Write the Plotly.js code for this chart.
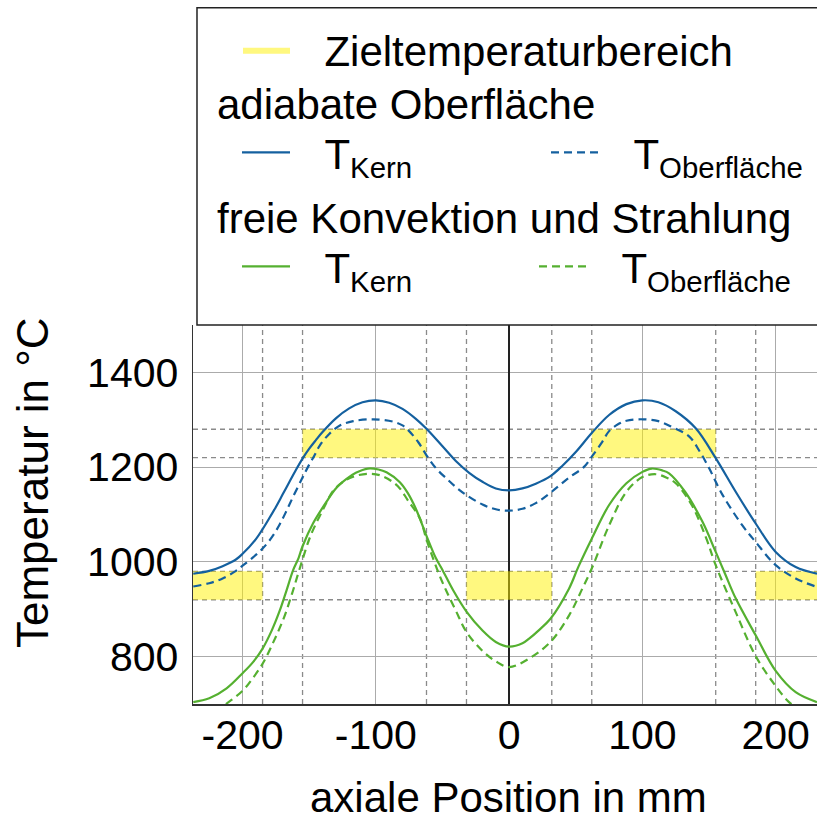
<!DOCTYPE html>
<html>
<head>
<meta charset="utf-8">
<script src="https://cdn.plot.ly/plotly-3.0.1.min.js"></script>
<style>html,body{margin:0;padding:0;background:#fff;}</style>
</head>
<body>
<div id="chart" style="width:817px;height:819px;"></div>
<script>
// axial position (mm) and temperatures (°C)
const xAdiabatKern = [-237,-225,-215,-205,-200,-190,-185,-180,-175,-170,-165,-160,-155,-150,-145,-140,-130,-120,-110,-100,-90,-80,-70,-62,-50,-40,-30,-20,-10,0,10,20,31,40,50,62,75,88,100,112,125,140,155,170,185,200,215,231];
const tAdiabatKern = [975,981,991,1005,1017,1048,1069,1092,1116,1142,1168,1194,1218,1239,1257,1274,1303,1324,1337,1341,1336,1323,1302,1281,1244,1213,1188,1169,1155,1151,1155,1165,1181,1203,1232,1272,1310,1333,1341,1337,1318,1282,1219,1148,1081,1021,989,975];

const xAdiabatOberflaeche = [-237,-225,-215,-205,-200,-192,-185,-178,-172,-167,-162,-155,-151,-146,-142,-135,-127,-117,-102,-87,-80,-75,-68,-62,-55,-47,-40,-32,-20,-10,0,10,20,31,45,56,62,70,75,82,88,100,112,122,135,143,150,160,175,185,200,215,231];
const tAdiabatOberflaeche = [948,955,965,981,992,1010,1028,1052,1080,1108,1138,1178,1200,1225,1246,1270,1288,1297,1301,1296,1288,1276,1252,1225,1198,1176,1158,1141,1121,1111,1108,1112,1124,1146,1178,1200,1222,1254,1276,1291,1298,1301,1297,1285,1265,1233,1198,1142,1077,1042,993,965,947];

const xKonvKern = [-237,-225,-212,-200,-192,-185,-178,-172,-167,-162,-158,-155,-147,-137,-130,-122,-115,-106,-98,-92,-82,-76,-70,-62,-55,-50,-42,-32,-20,-10,0,10,15,22,31,45,52,62,75,88,100,107,115,120,132,145,155,162,170,185,200,215,231];
const tKonvKern = [704,712,733,765,789,817,856,898,940,983,1008,1033,1082,1127,1155,1175,1188,1197,1195,1189,1168,1145,1112,1055,1008,983,940,895,855,831,821,828,838,855,880,944,990,1049,1120,1166,1190,1197,1193,1187,1148,1085,1021,975,923,845,770,725,704];

const xKonvOberflaeche = [-237,-225,-212,-200,-193,-185,-177,-169,-163,-157,-149,-139,-132,-124,-117,-106,-97,-88,-82,-76,-67,-62,-57,-52,-47,-40,-32,-20,-10,0,15,31,45,55,62,75,88,100,110,118,125,137,148,155,170,185,200,210,220,231];
const tKonvOberflaeche = [655,676,701,728,752,785,830,882,932,987,1055,1114,1150,1170,1180,1186,1183,1170,1155,1130,1092,1047,1007,970,938,897,852,812,790,778,796,831,887,944,986,1077,1148,1179,1185,1178,1166,1120,1049,993,894,801,738,704,684,666];

// target temperature ranges (Zieltemperaturbereich)
const zoneStart = [-240, -32, 185, -155, 62];
const zoneEnd   = [-185, 32, 240, -62, 155];
const zoneTmin  = [920, 920, 920, 1220, 1220];
const zoneTmax  = [980, 980, 980, 1280, 1280];

const xTicks = [-200, -100, 0, 100, 200];
const xTickText = ['-200', '-100', '0', '100', '200'];
const yTicks = [800, 1000, 1200, 1400];

const FONT = 'Liberation Sans, Arial, sans-serif';
const BLUE = '#14609f';
const GREEN = '#55b030';

// polygons for the zones
const zx = [], zy = [];
zoneStart.forEach((s, i) => {
  const e = zoneEnd[i], a = zoneTmin[i], b = zoneTmax[i];
  zx.push(s, e, e, s, s, null);
  zy.push(a, a, b, b, a, null);
});

const SM = 1.0;
const traces = [
  {x: zx, y: zy, type: 'scatter', mode: 'lines', fill: 'toself',
   fillcolor: 'rgba(255,242,0,0.5)', line: {width: 0, color: 'rgba(150,150,150,0)'},
   name: '\u2002\u2009Zieltemperaturbereich', legend: 'legend', hoverinfo: 'skip'},
  {x: xKonvKern, y: tKonvKern, type: 'scatter', mode: 'lines',
   line: {color: GREEN, width: 2.2, shape: 'spline', smoothing: SM},
   name: '\u2002\u2009T<sub>Kern</sub>', legend: 'legend3', legendwidth: 212},
  {x: xKonvOberflaeche, y: tKonvOberflaeche, type: 'scatter', mode: 'lines',
   line: {color: GREEN, width: 2.2, dash: '8px,5px', shape: 'spline', smoothing: SM},
   name: '\u2002\u2009T<sub>Oberfläche</sub>', legend: 'legend3'},
  {x: xAdiabatKern, y: tAdiabatKern, type: 'scatter', mode: 'lines',
   line: {color: BLUE, width: 2.2, shape: 'spline', smoothing: SM},
   name: '\u2002\u2009T<sub>Kern</sub>', legend: 'legend2', legendwidth: 224},
  {x: xAdiabatOberflaeche, y: tAdiabatOberflaeche, type: 'scatter', mode: 'lines',
   line: {color: BLUE, width: 2.2, dash: '8px,5px', shape: 'spline', smoothing: SM},
   name: '\u2002\u2009T<sub>Oberfläche</sub>', legend: 'legend2'}
];

// dashed guide lines at zone boundaries
const shapes = [];
const vEdges = [...new Set(zoneStart.concat(zoneEnd))].filter(v => Math.abs(v) < 230);
vEdges.forEach(v => shapes.push({type: 'line', xref: 'x', yref: 'paper', x0: v, x1: v, y0: 0, y1: 1,
  line: {color: '#8a8a8a', width: 1.3, dash: '5px,4px'}, layer: 'below'}));
const hEdges = [...new Set(zoneTmin.concat(zoneTmax))];
hEdges.forEach(h => shapes.push({type: 'line', xref: 'paper', yref: 'y', x0: 0, x1: 1, y0: h, y1: h,
  line: {color: '#8a8a8a', width: 1.3, dash: '5px,4px'}, layer: 'below'}));
// legend frame
shapes.push({type: 'rect', xref: 'paper', yref: 'paper', x0: 0.0064, x1: 1.03, y0: 1, y1: 1.837,
  line: {color: '#222', width: 1.5}, fillcolor: 'rgba(0,0,0,0)', layer: 'above'});

const legendBase = {
  xref: 'container', yref: 'container', xanchor: 'left', yanchor: 'top',
  bgcolor: 'rgba(0,0,0,0)', borderwidth: 0,
  font: {family: FONT, size: 42, color: '#000'}, itemwidth: 48
};

const layout = {
  width: 817, height: 819,
  margin: {l: 193, r: 0, t: 325, b: 115, pad: 0, autoexpand: false},
  paper_bgcolor: '#fff', plot_bgcolor: '#fff',
  font: {family: FONT, size: 41, color: '#000'},
  showlegend: true,
  xaxis: {
    range: [-237.2, 231], tickvals: xTicks, ticktext: xTickText, ticks: '', ticklabelstandoff: -6, tickangle: 0,
    showgrid: true, gridcolor: '#ababab', gridwidth: 1.2, automargin: false,
    zeroline: true, zerolinecolor: '#222', zerolinewidth: 1.3,
    showline: true, linecolor: '#333', linewidth: 1.5,
    tickfont: {family: FONT, size: 41, color: '#000'}
  },
  yaxis: {
    range: [700, 1500], tickvals: yTicks, ticks: '', ticklabelstandoff: 5, automargin: false,
    showgrid: true, gridcolor: '#ababab', gridwidth: 1.2, zeroline: false,
    showline: true, linecolor: '#333', linewidth: 1.5,
    tickfont: {family: FONT, size: 41, color: '#000'}
  },
  legend: Object.assign({}, legendBase, {x: 238/817, y: 1 - 16/819, itemwidth: 47}),
  legend2: Object.assign({}, legendBase, {x: 215/817, y: 1 - 64/819, orientation: 'h',
    indentation: 22, title: {text: 'adiabate Oberfläche', side: 'top', font: {family: FONT, size: 42, color: '#000'}}}),
  legend3: Object.assign({}, legendBase, {x: 215/817, y: 1 - 178/819, orientation: 'h',
    indentation: 22, title: {text: 'freie Konvektion und Strahlung', side: 'top', font: {family: FONT, size: 42, color: '#000'}}}),
  shapes: shapes,
  annotations: [
    {text: 'Temperatur in °C', textangle: -90, xref: 'paper', yref: 'paper',
     x: (32 - 193) / 624, y: (704 - 482) / 379, xanchor: 'center', yanchor: 'middle',
     showarrow: false, font: {family: FONT, size: 44, color: '#000'}},
    {text: 'axiale Position in mm', xref: 'paper', yref: 'paper',
     x: (508 - 193) / 624, y: (704 - 797) / 379, xanchor: 'center', yanchor: 'middle',
     showarrow: false, font: {family: FONT, size: 42, color: '#000'}}
  ]
};

Plotly.newPlot('chart', traces, layout, {displayModeBar: false, staticPlot: true});
</script>
</body>
</html>
